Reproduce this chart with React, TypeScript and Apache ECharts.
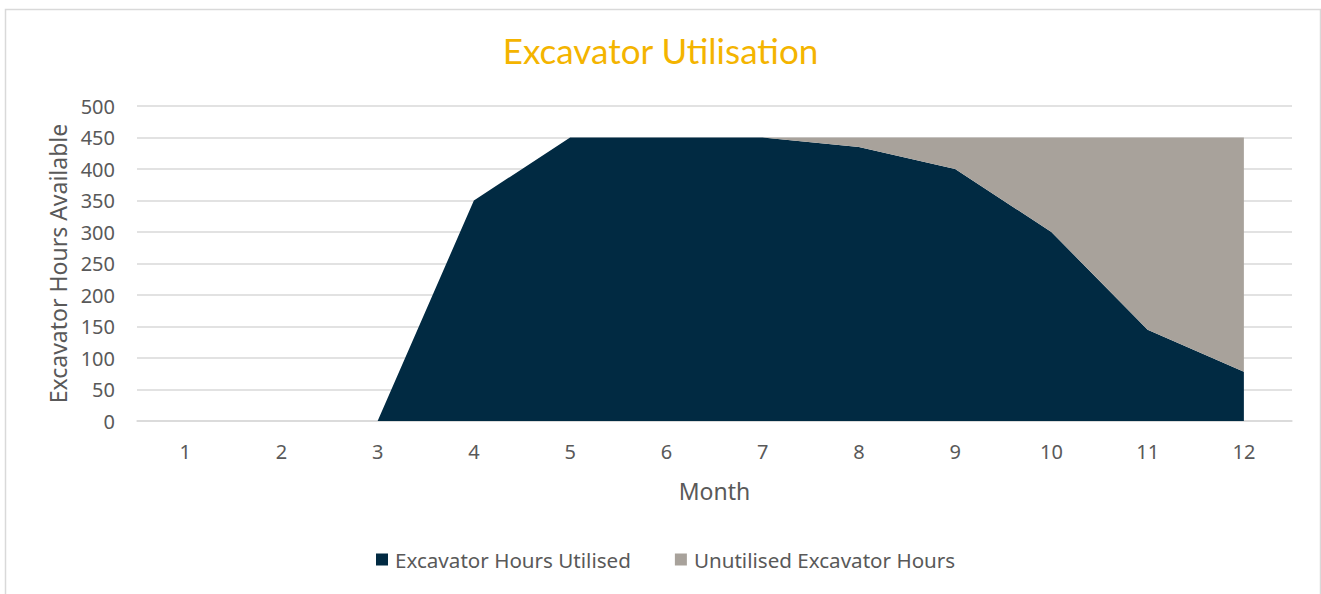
import React, { useEffect, useRef } from "react";
import * as echarts from "echarts";

const months = ["1", "2", "3", "4", "5", "6", "7", "8", "9", "10", "11", "12"];
const utilised = [0, 0, 0, 350, 450, 450, 450, 435, 400, 300, 145, 78];
const unutilised = [0, 0, 0, 0, 0, 0, 0, 15, 50, 150, 305, 372];
const yTicks = { min: 0, max: 500, interval: 50 };

const FONT = "Noto Sans";
const GREY_TEXT = "#595959";

export default function App() {
  const ref = useRef<HTMLDivElement>(null);
  useEffect(() => {
    document.body.style.margin = "0";
    const chart = echarts.init(ref.current!, null, { renderer: "svg" });
    chart.setOption({
      animation: false,
      backgroundColor: "#ffffff",
      title: {
        text: "Excavator Utilisation",
        left: "center",
        top: 27,
        textStyle: { color: "#F4B400", fontSize: 35, fontWeight: "normal", fontFamily: "Lato" },
      },
      graphic: [
        {
          type: "rect",
          shape: { x: 5.5, y: 9.5, width: 1315, height: 600 },
          style: { fill: "none", stroke: "#d9d9d9", lineWidth: 1.5 },
          silent: true,
          z: -1,
        },
      ],
      legend: {
        bottom: 19,
        left: 371,
        itemWidth: 12,
        itemHeight: 12,
        itemGap: 44,
        icon: "rect",
        textStyle: { color: GREY_TEXT, fontSize: 20.6, fontFamily: FONT, padding: [0, 0, 0, 2] },
        data: ["Excavator Hours Utilised", "Unutilised Excavator Hours"],
      },
      grid: { left: 137, right: 29, top: 106, bottom: 173 },
      xAxis: {
        type: "category",
        data: months,
        boundaryGap: true,
        name: "Month",
        nameLocation: "middle",
        nameGap: 58,
        nameTextStyle: { color: GREY_TEXT, fontSize: 23, fontFamily: FONT },
        axisLine: { lineStyle: { color: "#d9d9d9", width: 1.5 } },
        axisTick: { show: false },
        axisLabel: { color: GREY_TEXT, fontSize: 20, fontFamily: FONT, margin: 20 },
      },
      yAxis: {
        type: "value",
        min: yTicks.min,
        max: yTicks.max,
        interval: yTicks.interval,
        name: "Excavator Hours Available",
        nameLocation: "middle",
        nameGap: 68,
        nameTextStyle: { color: GREY_TEXT, fontSize: 23, fontFamily: FONT },
        axisLine: { show: false },
        axisTick: { show: false },
        axisLabel: { color: GREY_TEXT, fontSize: 20, fontFamily: FONT, margin: 22 },
        splitLine: { lineStyle: { color: "#d9d9d9", width: 1.5 } },
      },
      series: [
        {
          name: "Excavator Hours Utilised",
          type: "line",
          stack: "total",
          data: utilised,
          symbol: "none",
          lineStyle: { width: 0 },
          itemStyle: { color: "#012A42" },
          areaStyle: { color: "#012A42", opacity: 1 },
        },
        {
          name: "Unutilised Excavator Hours",
          type: "line",
          stack: "total",
          data: unutilised,
          symbol: "none",
          lineStyle: { width: 0 },
          itemStyle: { color: "#A8A29B" },
          areaStyle: { color: "#A8A29B", opacity: 1 },
        },
      ],
    });
    return () => chart.dispose();
  }, []);
  return <div ref={ref} style={{ width: 1321, height: 594 }} />;
}
